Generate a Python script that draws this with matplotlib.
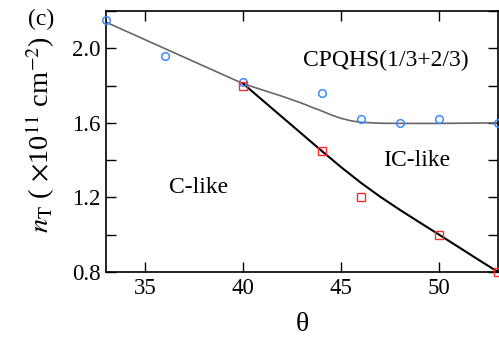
import matplotlib
matplotlib.use("Agg")
import matplotlib.pyplot as plt
from matplotlib.ticker import MultipleLocator, FormatStrFormatter

plt.rcParams['font.family'] = ['Liberation Serif', 'DejaVu Serif']
plt.rcParams['mathtext.fontset'] = 'stix'

# measured points
theta_circ = [33, 36, 40, 44, 46, 48, 50, 53]
n_circ = [2.15, 1.96, 1.82, 1.76, 1.62, 1.60, 1.62, 1.60]
theta_sq = [40, 44, 46, 50, 53]
n_sq = [1.80, 1.45, 1.20, 1.00, 0.80]

# boundary curves
theta_gray = [33, 40, 41, 42, 43, 43.5, 44, 44.5, 45, 45.5, 46, 47, 48, 50, 53]
n_gray = [2.14, 1.81, 1.776, 1.742, 1.705, 1.684, 1.664, 1.642, 1.624, 1.611,
          1.603, 1.598, 1.597, 1.597, 1.600]
theta_black = [40, 41, 42, 43, 44, 45, 46, 47, 48, 49, 50, 51, 52, 53]
n_black = [1.81, 1.72, 1.63, 1.54, 1.45, 1.362, 1.279, 1.203, 1.133, 1.066,
           1.0, 0.933, 0.866, 0.80]

fig = plt.figure(figsize=(4.99, 3.49), dpi=100)
ax = fig.add_axes([106 / 499, 1 - 272 / 349, 392 / 499, 261 / 349])

ax.plot(theta_gray, n_gray, color='#666666', lw=1.2, zorder=2)
ax.plot(theta_black, n_black, color='black', lw=1.5, zorder=2)
ax.plot(theta_circ, n_circ, 'o', mfc='none', mec='#3d8bff', ms=5.5, mew=1.1,
        clip_on=False, zorder=3)
ax.plot(theta_sq, n_sq, 's', mfc='none', mec='#ff2a2a', ms=5.5, mew=1.0,
        clip_on=False, zorder=3)

ax.set_xlim(33, 53)
ax.set_ylim(0.8, 2.2)
ax.xaxis.set_major_locator(MultipleLocator(5))
ax.yaxis.set_major_locator(MultipleLocator(0.4))
ax.yaxis.set_minor_locator(MultipleLocator(0.2))
ax.yaxis.set_major_formatter(FormatStrFormatter('%.1f'))
ax.tick_params(which='both', direction='in', top=True, right=True,
               labelsize=16.5, width=1.0, pad=4, length=7)
for s in ax.spines.values():
    s.set_linewidth(1.2)

ax.set_xlabel('\u03b8', fontsize=20, labelpad=10)
ax.set_ylabel(r'$n_{\rm T}$ ( $\times$10$^{11}$ cm$^{-2}$)', fontsize=20.5)
ax.yaxis.set_label_coords(-0.125, 0.525)

ax.text(47.3, 1.935, 'CPQHS(1/3+2/3)', fontsize=17, ha='center', va='center')
ax.text(48.87, 1.40, 'IC-like', fontsize=17, ha='center', va='center')
ax.text(37.74, 1.255, 'C-like', fontsize=17, ha='center', va='center')
fig.text(41 / 499, 1 - 19 / 349, '(c)', fontsize=17, ha='center', va='center')

fig.savefig('out.png', dpi=100)
